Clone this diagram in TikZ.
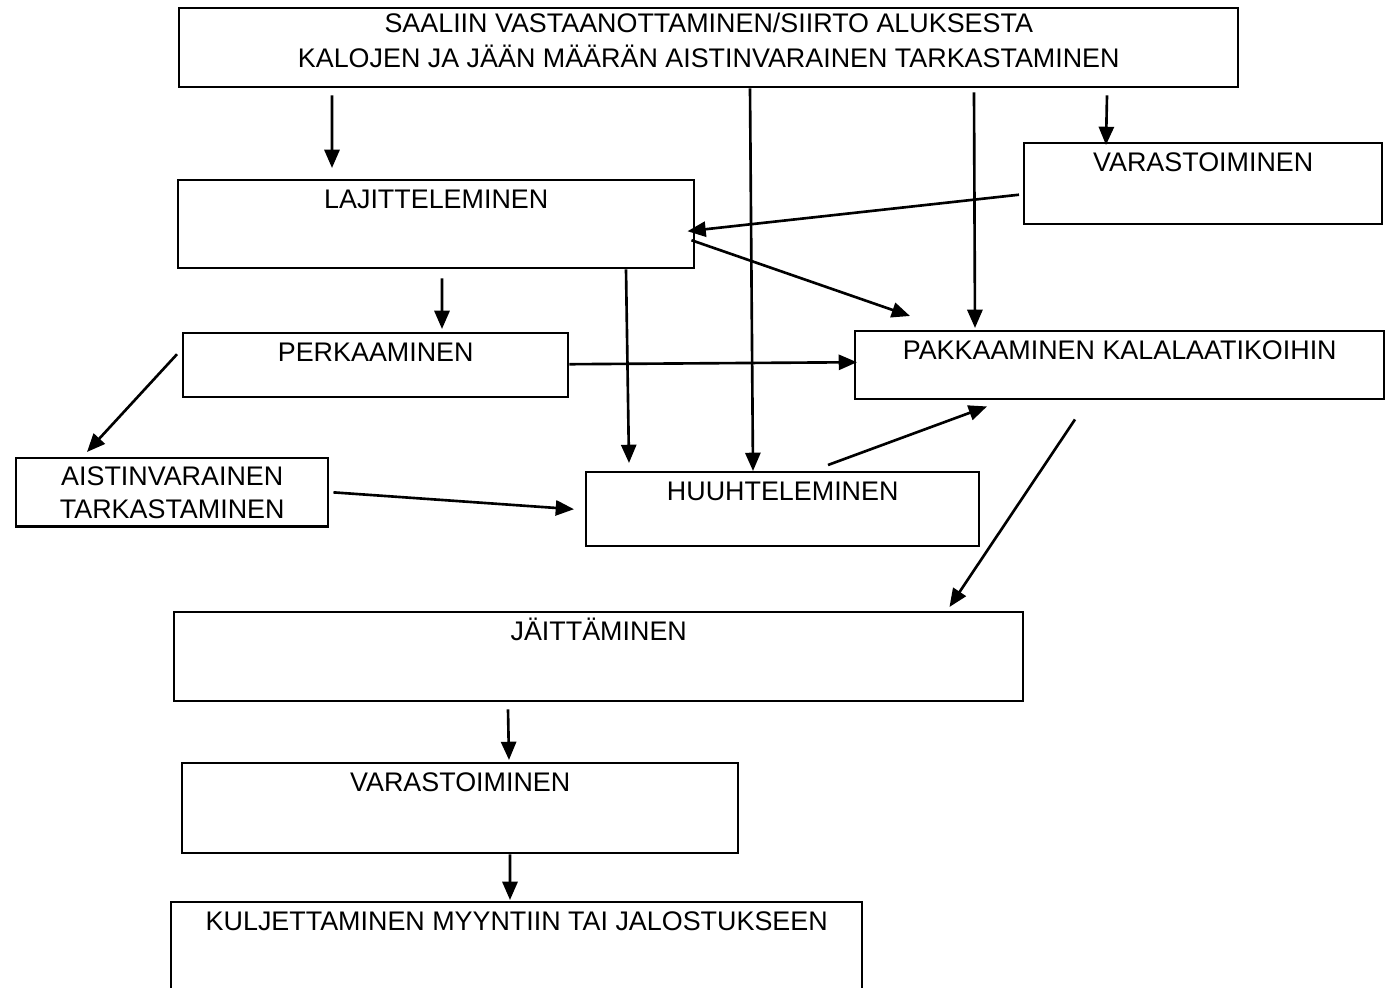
\documentclass[tikz,border=0pt]{standalone}
\usepackage{fontspec}
\setmainfont{Liberation Sans}
\usepackage{tikz}
\usetikzlibrary{arrows.meta}

\begin{document}
\begin{tikzpicture}[line width=0.7pt,
  box/.style={draw,anchor=north west,inner xsep=0pt,inner ysep=0.09cm,
    text height=0.193cm,align=center,font=\fontsize{7.65}{9.4}\selectfont},
  arr/.style={line width=0.75pt,-{Triangle[length=5.2pt,width=4.3pt]}}]
 \useasboundingbox(0,0) rectangle (13.88,-9.88);
 \clip(0,0) rectangle (13.88,-9.88);
 \node[box,minimum width=10.59cm,inner ysep=0.05cm,text height=0.542cm,text depth=0.148cm,
   font=\fontsize{7.65}{9.9}\selectfont] (saalis) at (1.78,-0.07)
   {SAALIIN VASTAANOTTAMINEN/SIIRTO ALUKSESTA\\KALOJEN JA JÄÄN MÄÄRÄN AISTINVARAINEN TARKASTAMINEN};
 \node[box,minimum width=3.58cm,text depth=0.437cm] (varasto) at (10.23,-1.42) {VARASTOIMINEN};
 \node[box,minimum width=5.16cm,text depth=0.507cm] (lajittelu) at (1.77,-1.79) {LAJITTELEMINEN};
 \node[box,minimum width=3.85cm,text depth=0.267cm] (perkaus) at (1.82,-3.32) {PERKAAMINEN};
 \node[box,minimum width=5.29cm,text depth=0.307cm] (pakkaus) at (8.54,-3.30) {PAKKAAMINEN KALALAATIKOIHIN};
 \node[box,minimum width=3.12cm,inner ysep=0.08cm,text height=0.523cm,text depth=0cm] (aisti) at (0.15,-4.57)
   {AISTINVARAINEN\\TARKASTAMINEN};
 \node[box,minimum width=3.93cm,text depth=0.367cm] (huuhtelu) at (5.85,-4.71) {HUUHTELEMINEN};
 \node[box,minimum width=8.49cm,text depth=0.517cm] (jaitys) at (1.73,-6.11) {JÄITTÄMINEN};
 \node[box,minimum width=5.56cm,text depth=0.527cm] (varastointi) at (1.81,-7.62) {VARASTOIMINEN};
 \node[box,minimum width=6.91cm,text depth=0.627cm] (kuljetus) at (1.70,-9.01)
   {KULJETTAMINEN MYYNTIIN TAI JALOSTUKSEEN};
 \draw[arr]([xshift=1.54cm,yshift=-0.07cm]saalis.south west)--([xshift=1.55cm,yshift=0.11cm]lajittelu.north west);
 \draw[arr]([xshift=5.72cm]saalis.south west)--([xshift=1.68cm]huuhtelu.north west);
 \draw[arr]([xshift=7.96cm,yshift=-0.04cm]saalis.south west)--([xshift=1.21cm,yshift=0.02cm]pakkaus.north west);
 \draw[arr]([xshift=9.29cm,yshift=-0.07cm]saalis.south west)--([xshift=0.83cm,yshift=-0.03cm]varasto.north west);
 \draw[arr]([xshift=-0.04cm,yshift=-0.11cm]varasto.west)--([xshift=-0.08cm,yshift=-0.07cm]lajittelu.east);
 \draw[arr]([xshift=-0.04cm,yshift=-0.16cm]lajittelu.east)--([xshift=0.56cm,yshift=0.14cm]pakkaus.north west);
 \draw[arr]([xshift=2.65cm,yshift=-0.09cm]lajittelu.south west)--([xshift=2.60cm,yshift=0.03cm]perkaus.north west);
 \draw[arr]([xshift=4.49cm]lajittelu.south west)--([xshift=0.44cm,yshift=0.08cm]huuhtelu.north west);
 \draw[arr]([yshift=0.01cm]perkaus.east)--([xshift=0.03cm,yshift=0.03cm]pakkaus.west);
 \draw[arr]([xshift=-0.05cm,yshift=0.11cm]perkaus.west)--([xshift=0.72cm,yshift=0.05cm]aisti.north west);
 \draw[arr]([xshift=0.04cm]aisti.east)--([xshift=-0.11cm]huuhtelu.west);
 \draw[arr]([xshift=2.43cm,yshift=0.06cm]huuhtelu.north west)--([xshift=1.33cm,yshift=-0.06cm]pakkaus.south west);
 \draw[arr]([xshift=2.21cm,yshift=-0.19cm]pakkaus.south west)--([xshift=-0.75cm,yshift=0.04cm]jaitys.north east);
 \draw[arr]([xshift=3.35cm,yshift=-0.07cm]jaitys.south west)--([xshift=3.28cm,yshift=0.02cm]varastointi.north west);
 \draw[arr]([xshift=3.29cm]varastointi.south west)--([xshift=3.40cm,yshift=0.01cm]kuljetus.north west);
\end{tikzpicture}
\end{document}
